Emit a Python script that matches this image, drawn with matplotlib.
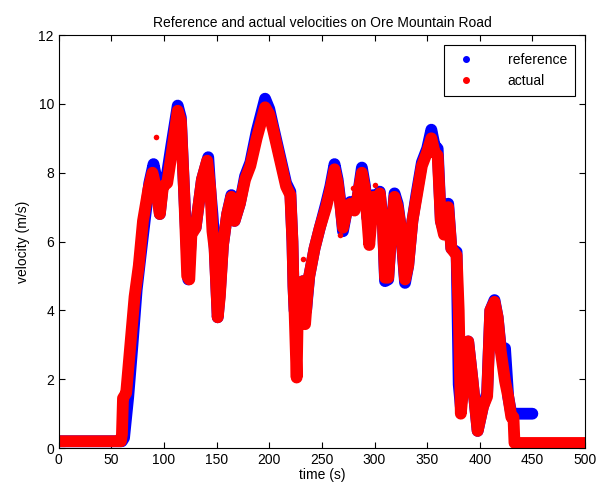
#!/usr/bin/env python3
# -*- coding: utf-8 -*-
"""
Velocidad de referencia y real en Ore Mountain Road.
Los valores se leen a ojo de la figura original (estilo MATLAB).
"""

import matplotlib
matplotlib.use("Agg")
import matplotlib.pyplot as plt
from matplotlib.lines import Line2D

plt.rcParams["font.family"] = ["Liberation Sans", "DejaVu Sans"]

# velocidad de referencia (s, m/s)
t_ref = [0, 60, 62, 66, 70, 74, 77, 82, 86, 90, 93, 96, 99, 102, 107, 113,
         116, 119, 123, 126, 130, 136, 142, 144, 146, 148, 151, 153, 156, 160,
         164, 167, 172, 177, 182, 188, 196, 200, 204, 210, 216, 220, 222, 223,
         224, 226, 228, 230, 232, 235, 238, 243, 248, 254, 258, 262, 265, 267,
         270, 273, 277, 281, 284, 288, 291, 293, 296, 299, 302, 305, 308, 310,
         313, 316, 319, 322, 325, 329, 332, 336, 340, 345, 350, 354, 357, 360,
         363, 366, 370, 373, 378, 380, 382, 385, 389, 393, 398, 403, 407, 410,
         414, 417, 420, 424, 427, 430, 450]
v_ref = [0.2, 0.2, 0.3, 1.5, 3.0, 4.6, 5.4, 6.7, 7.7, 8.25, 7.8, 6.8, 7.7, 7.8,
         8.8, 9.95, 9.6, 7.5, 4.9, 6.3, 6.4, 7.8, 8.45, 7.5, 6.8, 5.9, 3.8, 4.5,
         5.9, 6.8, 7.35, 6.6, 7.1, 7.9, 8.3, 9.2, 10.15, 9.85, 9.3, 8.5, 7.7,
         7.45, 6.0, 4.7, 4.0, 3.8, 4.2, 4.5, 4.85, 4.0, 5.0, 5.8, 6.4, 7.1, 7.6,
         8.25, 7.8, 7.3, 6.3, 6.8, 7.15, 7.0, 7.3, 8.15, 7.6, 6.7, 6.9, 7.35,
         7.1, 7.45, 6.5, 4.85, 4.9, 6.3, 7.4, 7.1, 6.4, 4.8, 5.3, 6.6, 7.4, 8.3,
         8.7, 9.25, 8.8, 8.7, 6.6, 6.3, 7.1, 5.8, 5.7, 1.85, 1.2, 2.0, 3.1, 2.0,
         0.5, 1.2, 1.6, 4.0, 4.3, 3.8, 2.9, 2.9, 1.5, 1.0, 1.0]

# velocidad real (s, m/s)
t_act = [0, 59, 60, 61, 64, 68, 72, 76, 80, 85, 89, 92, 96, 99, 103, 108, 113,
         116, 119, 122, 124, 126, 130, 136, 141, 144, 146, 148, 151, 153, 156,
         160, 164, 167, 172, 177, 182, 188, 196, 200, 204, 210, 216, 220, 222,
         223, 224, 226, 227, 229, 232, 234, 236, 238, 243, 248, 254, 258, 262,
         265, 267, 270, 273, 277, 281, 284, 288, 291, 293, 295, 299, 302, 305,
         308, 310, 313, 316, 319, 322, 325, 329, 332, 336, 340, 345, 350, 354,
         357, 360, 363, 366, 370, 373, 378, 380, 382, 385, 389, 393, 398, 403,
         407, 410, 414, 417, 420, 424, 427, 430, 432, 433, 500]
v_act = [0.2, 0.2, 0.4, 1.45, 1.6, 3.0, 4.4, 5.3, 6.6, 7.5, 8.0, 7.6, 6.8, 7.6,
         7.7, 8.7, 9.8, 9.5, 7.5, 5.0, 4.9, 6.2, 6.4, 7.8, 8.35, 7.5, 6.3, 5.8,
         3.8, 4.4, 5.9, 6.8, 7.3, 6.6, 7.1, 7.8, 8.2, 9.0, 9.9, 9.7, 9.2, 8.4,
         7.6, 7.35, 6.0, 4.7, 4.0, 2.05, 3.8, 4.2, 4.85, 3.6, 4.4, 5.0, 5.8, 6.4,
         7.0, 7.5, 8.1, 7.7, 7.2, 6.4, 6.8, 7.1, 6.9, 7.3, 8.0, 7.5, 6.7, 5.9,
         7.3, 7.1, 7.4, 6.5, 4.95, 4.95, 6.3, 7.3, 7.0, 6.4, 4.9, 5.3, 6.6, 7.3,
         8.2, 8.6, 9.0, 8.6, 8.5, 6.6, 6.2, 7.0, 5.8, 5.6, 4.0, 1.0, 2.0, 3.1,
         2.0, 0.5, 1.2, 1.5, 4.0, 4.25, 3.8, 2.8, 1.95, 1.5, 0.9, 0.9, 0.15, 0.15]

# puntos sueltos de la velocidad real
t_act_out = [92.8, 232, 267, 279.6, 300.4]
v_act_out = [9.05, 5.5, 6.2, 7.55, 7.65]


def dibujar():
    fig = plt.figure(figsize=(6.0, 4.93), dpi=100)
    ax = fig.add_axes([0.098, 0.091, 0.877, 0.838])

    ax.plot(t_ref, v_ref, color="blue", lw=8.5, solid_joinstyle="round",
            solid_capstyle="round")
    ax.plot(t_act, v_act, color="red", lw=8.5, solid_joinstyle="round",
            solid_capstyle="round")
    ax.plot(t_act_out, v_act_out, "o", color="red", ms=4, mec="none")

    ax.set_xlim(0, 500)
    ax.set_ylim(0, 12)
    ax.set_xticks(range(0, 501, 50))
    ax.set_yticks(range(0, 13, 2))
    ax.tick_params(direction="in", top=True, right=True, labelsize=10,
                   length=4)
    for s in ax.spines.values():
        s.set_linewidth(0.8)

    ax.set_title("Reference and actual velocities on Ore Mountain Road",
                 fontsize=10, pad=6)
    ax.set_xlabel("time (s)", fontsize=10, labelpad=1)
    ax.set_ylabel("velocity (m/s)", fontsize=10, labelpad=6)

    handles = [Line2D([], [], ls="none", marker=".", color="blue", ms=8),
               Line2D([], [], ls="none", marker=".", color="red", ms=8)]
    leg = ax.legend(handles, ["reference", "actual"], loc="upper right",
                    fontsize=10, fancybox=False, edgecolor="black",
                    framealpha=1, borderaxespad=0.7, handletextpad=2.0,
                    borderpad=0.6)
    leg.get_frame().set_linewidth(0.8)

    fig.savefig("out.png", dpi=100)


if __name__ == "__main__":
    dibujar()
